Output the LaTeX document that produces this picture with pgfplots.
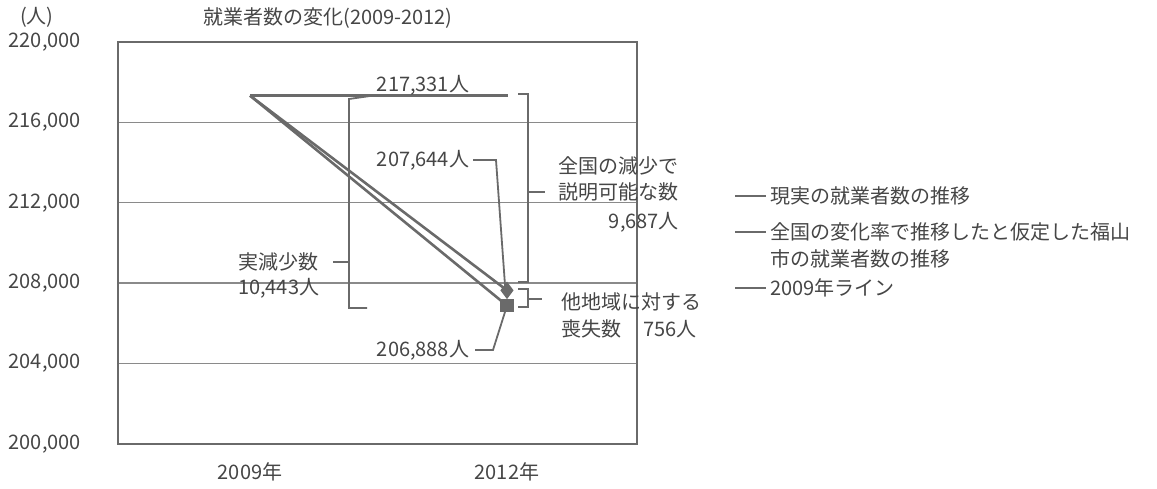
\documentclass[border=0pt]{standalone}
\usepackage{fontspec}
\setmainfont{Noto Sans CJK JP}
\usepackage{pgfplots}
\pgfplotsset{compat=1.18}
\definecolor{ink}{HTML}{464646}
\definecolor{linegray}{HTML}{6A6A6A}
\definecolor{gridgray}{HTML}{8A8A8A}

\begin{document}
\begin{tikzpicture}[font=\fontsize{10}{13.5}\selectfont, text=ink]
% page frame in reference pixels (1 px = 0.5 pt)
\begin{scope}[x=0.5pt,y=-0.5pt,shift={(-118,-444)}]
\path (0,0) rectangle (1157,486);
\end{scope}

\begin{axis}[
  at={(0,0)}, anchor=south west,
  scale only axis, width=259.5pt, height=201pt,
  xmin=-0.514, xmax=1.506, ymin=200000, ymax=220000,
  xtick={0,1}, xticklabels={2009年,2012年},
  ytick={200000,204000,208000,212000,216000,220000},
  scaled y ticks=false,
  /pgf/number format/.cd, fixed, 1000 sep={,}, assume math mode=true,
  /pgfplots/.cd,
  major tick length=0pt,
  yticklabel style={anchor=east, xshift=-15pt, text=ink},
  xticklabel style={anchor=north, yshift=-6pt, text=ink},
  ymajorgrids, grid style={gridgray, line width=0.7pt},
  axis line style={linegray, line width=0.9pt},
  clip=false,
]
% 2009 line
\addplot[linegray, line width=1.3pt, no marks] coordinates {(0,217331)(1.004,217331)};
% actual
\addplot[linegray, line width=1.3pt, mark=square*, mark size=2.7pt, mark indices={2}, mark options={fill=linegray}] coordinates {(0,217331)(1,206888)};
% national rate
\addplot[linegray, line width=1.3pt, mark=diamond*, mark size=3.3pt, mark indices={2}, mark options={fill=linegray}] coordinates {(0,217331)(1,207644)};
\end{axis}

\begin{scope}[x=0.5pt,y=-0.5pt,shift={(-118,-444)}]
% titles
\node at (328,18) {就業者数の変化(2009-2012)};
\node at (37,17) {(人)};
% value labels
\node at (423,85) {217,331人};
\node at (423,160) {207,644人};
\node at (423,350) {206,888人};
\draw[linegray, line width=0.9pt] (473,160) -- (496,160) -- (505,285);
\draw[linegray, line width=0.9pt] (475,350) -- (493,350) -- (505,312);
% left bracket
\draw[linegray, line width=0.9pt] (370,96) -- (349,99) -- (349,308) -- (367,308);
\draw[linegray, line width=0.9pt] (333,262) -- (349,262);
\node[anchor=west] at (231,262) {実減少数};
\node[anchor=west] at (231,288) {10,443人};
% right bracket
\draw[linegray, line width=0.9pt] (518,94) -- (528,94) -- (528,282) -- (518,282);
\draw[linegray, line width=0.9pt] (528,192) -- (545,192);
\node[anchor=west] at (551,166) {全国の減少で};
\node[anchor=west] at (551,192) {説明可能な数};
\node[anchor=east] at (686,222) {9,687人};
% small bracket
\draw[linegray, line width=0.9pt] (518,289) -- (528,289) -- (528,307) -- (518,307);
\draw[linegray, line width=0.9pt] (528,299) -- (542,299);
\node[anchor=west] at (554,302) {他地域に対する};
\node[anchor=west] at (554,329) {喪失数};
\node[anchor=west] at (636,329) {756人};
% legend
\draw[linegray, line width=1.3pt] (735,196) -- (766,196);
\node[anchor=west, inner sep=1pt] at (768,196) {現実の就業者数の推移};
\draw[linegray, line width=1.3pt] (735,232) -- (766,232);
\node[anchor=west, inner sep=1pt] at (768,232) {全国の変化率で推移したと仮定した福山};
\node[anchor=west, inner sep=1pt] at (768,259) {市の就業者数の推移};
\draw[linegray, line width=1.3pt] (735,288) -- (766,288);
\node[anchor=west, inner sep=1pt] at (768,288) {2009年ライン};
\end{scope}
\end{tikzpicture}
\end{document}
